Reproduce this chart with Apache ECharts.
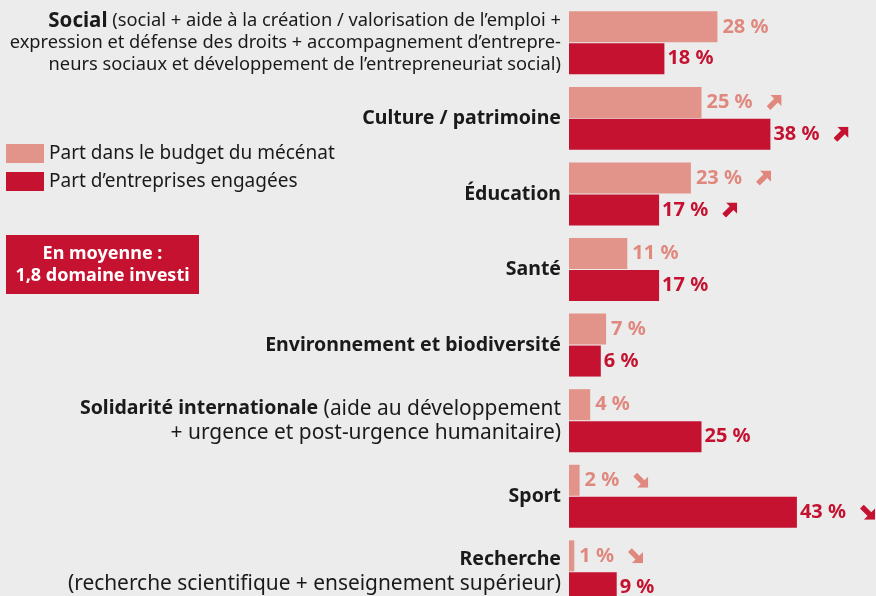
<!DOCTYPE html>
<html>
<head>
<meta charset="utf-8">
<script src="https://cdn.jsdelivr.net/npm/echarts@6/dist/echarts.min.js"></script>
<style>
html, body { margin: 0; padding: 0; background: #ececec; }
#chart { width: 876px; height: 596px; }
</style>
</head>
<body>
<div id="chart"></div>
<script>
// domaines (ordre du haut vers le bas)
var categories = ['Social', 'Culture / patrimoine', 'Éducation', 'Santé',
    'Environnement et biodiversité', 'Solidarité internationale', 'Sport', 'Recherche'];
// texte complémentaire, ligne par ligne (la 1re ligne suit le nom en gras)
var details = [
    ['(social + aide à la création / valorisation de l’emploi +',
     'expression et défense des droits + accompagnement d’entrepre-',
     'neurs sociaux et développement de l’entrepreneuriat social)'],
    [], [], [], [],
    ['(aide au développement', '+ urgence et post-urgence humanitaire)'],
    [],
    ['', '(recherche scientifique + enseignement supérieur)']
];
var budget = [28, 25, 23, 11, 7, 4, 2, 1];
var engagees = [18, 38, 17, 17, 6, 25, 43, 9];
var trendBudget = ['', 'up', 'up', '', '', '', 'down', 'down'];
var trendEngagees = ['', 'up', 'up', '', '', '', 'down', ''];

var LIGHT = '#e3948a';
var LIGHT_TXT = '#e0887e';
var DARK = '#c41230';
var FONT = 'Noto Sans';

function arrowImg(color, dir) {
    var rot = dir == 'down' ? ' transform="rotate(90 8 8)"' : '';
    var svg = '<svg xmlns="http://www.w3.org/2000/svg" width="16" height="16" viewBox="0 0 16 16">' +
        '<path' + rot + ' d="M4 0H16V12L12 8L4 16L0 12L8 4Z" fill="' + color + '"/></svg>';
    return 'data:image/svg+xml;charset=utf-8,' + encodeURIComponent(svg);
}

function axisLabel(value, index) {
    var d = details[index];
    var s = index == 0 ? 's' : '';   // le libellé "Social" est plus serré
    var first = '{b' + s + '|' + value + '}';
    if (d.length && d[0]) {
        first += '{n' + s + '| ' + d[0] + '}';
    }
    var lines = [first];
    for (var i = 1; i < d.length; i++) {
        lines.push('{n' + s + '|' + d[i] + '}');
    }
    return lines.join('\n');
}

function barLabel(trends) {
    return function (p) {
        var s = '{v|' + p.value + ' %}';
        if (trends[p.dataIndex] == 'up') s += '{gap|}{up|}';
        if (trends[p.dataIndex] == 'down') s += '{gap|}{down|}';
        return s;
    };
}

function labelRich(color) {
    return {
        v: { fontFamily: FONT, fontSize: 20, fontWeight: 'bold', color: color },
        gap: { width: 14 },
        up: { width: 15, height: 15, backgroundColor: { image: arrowImg(color, 'up') } },
        down: { width: 15, height: 15, backgroundColor: { image: arrowImg(color, 'down') } }
    };
}

var myChart = echarts.init(document.getElementById('chart'));
myChart.setOption({
    backgroundColor: '#ececec',
    animation: false,
    grid: { left: 569, top: 5, height: 604.6, right: 42, outerBoundsMode: 'none' },
    xAxis: {
        type: 'value', min: 0, max: 50, show: false
    },
    yAxis: {
        type: 'category',
        data: categories,
        inverse: true,
        axisLine: { show: false },
        axisTick: { show: false },
        axisLabel: {
            margin: 8,
            align: 'right',
            formatter: axisLabel,
            rich: {
                b: { fontFamily: FONT, fontSize: 19.5, fontWeight: 'bold', color: '#1a1a1a', lineHeight: 24 },
                n: { fontFamily: FONT, fontSize: 20.9, color: '#1a1a1a', lineHeight: 24 },
                bs: { fontFamily: FONT, fontSize: 20.5, fontWeight: 'bold', color: '#1a1a1a', lineHeight: 22 },
                ns: { fontFamily: FONT, fontSize: 18.3, color: '#1a1a1a', lineHeight: 22 }
            }
        }
    },
    legend: {
        orient: 'vertical',
        left: 6,
        top: 144,
        padding: 0,
        itemWidth: 38,
        itemHeight: 19,
        itemGap: 9,
        icon: 'rect',
        textStyle: { fontFamily: FONT, fontSize: 19, color: '#1a1a1a' },
        data: ['Part dans le budget du mécénat', 'Part d’entreprises engagées']
    },
    graphic: [{
        type: 'group',
        left: 6,
        top: 235,
        children: [{
            type: 'rect',
            shape: { x: 0, y: 0, width: 193, height: 59 },
            style: { fill: DARK }
        }, {
            type: 'text',
            x: 96.5, y: 29.5,
            style: {
                text: 'En moyenne :\n1,8 domaine investi',
                fontFamily: FONT, fontSize: 18, fontWeight: 'bold', lineHeight: 22,
                fill: '#ffffff', align: 'center', verticalAlign: 'middle'
            }
        }]
    }],
    series: [{
        name: 'Part dans le budget du mécénat',
        type: 'bar',
        data: budget,
        barWidth: 31,
        barGap: '3%',
        itemStyle: { color: LIGHT },
        label: {
            show: true, position: 'right', distance: 5,
            formatter: barLabel(trendBudget),
            rich: labelRich(LIGHT_TXT)
        }
    }, {
        name: 'Part d’entreprises engagées',
        type: 'bar',
        data: engagees,
        barWidth: 31,
        itemStyle: { color: DARK },
        label: {
            show: true, position: 'right', distance: 3,
            formatter: barLabel(trendEngagees),
            rich: labelRich(DARK)
        }
    }]
});
</script>
</body>
</html>
